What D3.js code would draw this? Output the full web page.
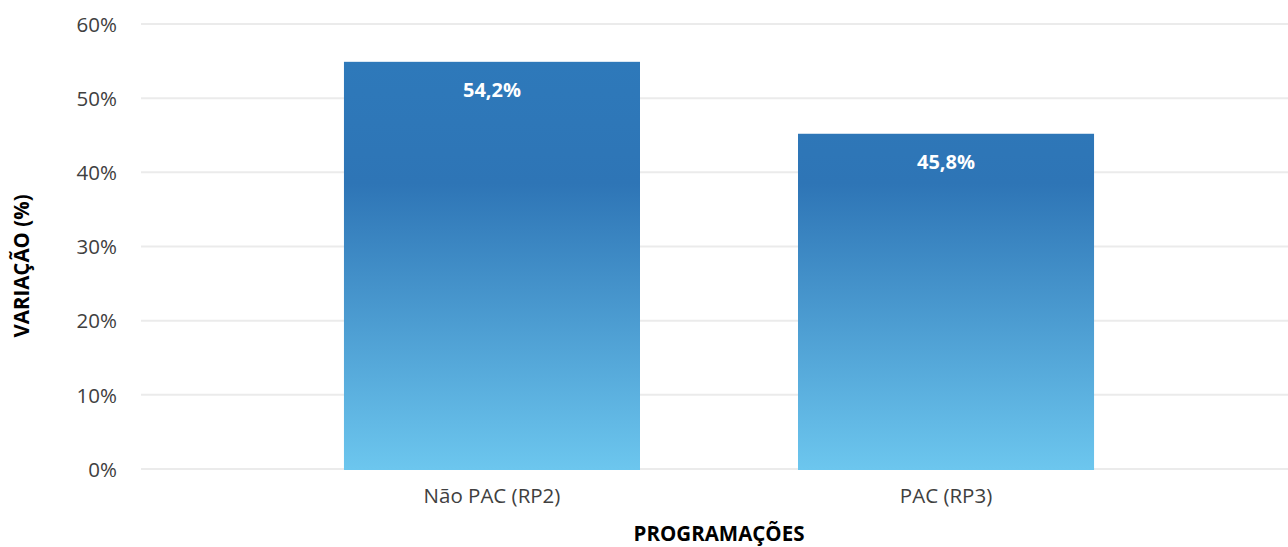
<!DOCTYPE html>
<html lang="pt">
<head>
  <meta charset="UTF-8">
  <title>Variação por programação</title>
  <script src="https://cdnjs.cloudflare.com/ajax/libs/d3/7.8.5/d3.min.js"></script>
  <style>
    body { margin: 0; background: #fff; }
    svg { display: block; font-family: "Open Sans", "Noto Sans", sans-serif; }
    .tick text { fill: #404040; font-size: 20.5px; font-family: "Open Sans", "Noto Sans", sans-serif; }
    .grid line { stroke: #ebebeb; stroke-width: 2; }
  </style>
</head>
<body>
  <div id="chart"></div>
  <script>
    // data
    const categories = ["Não PAC (RP2)", "PAC (RP3)"];
    const barValues = [54.9, 45.2];          // bar heights as drawn
    const barLabels = ["54,2%", "45,8%"];     // printed data labels
    const yTicks = [0, 10, 20, 30, 40, 50, 60];

    const W = 1288, H = 547;
    const margin = {top: 24, right: 0, bottom: 78, left: 141};
    const plotBottom = H - margin.bottom; // 469

    const svg = d3.select("#chart").append("svg")
      .attr("width", W).attr("height", H);

    const x = d3.scaleBand()
      .domain(categories)
      .range([margin.left, 1297])
      .paddingInner(0.348)
      .paddingOuter(0.447);

    const y = d3.scaleLinear()
      .domain([0, 60])
      .range([plotBottom, margin.top]);

    // gradient shared across the plot area
    const grad = svg.append("defs").append("linearGradient")
      .attr("id", "barGrad")
      .attr("gradientUnits", "userSpaceOnUse")
      .attr("x1", 0).attr("x2", 0)
      .attr("y1", y(55)).attr("y2", y(0));
    grad.append("stop").attr("offset", 0).attr("stop-color", "#2e79ba");
    grad.append("stop").attr("offset", 0.3).attr("stop-color", "#2e75b6");
    grad.append("stop").attr("offset", 1).attr("stop-color", "#6cc6ee");

    // gridlines
    svg.append("g").attr("class", "grid")
      .selectAll("line").data(yTicks).enter().append("line")
      .attr("x1", margin.left).attr("x2", W)
      .attr("y1", d => y(d)).attr("y2", d => y(d));

    // y axis labels
    const yAxis = svg.append("g")
      .attr("transform", `translate(${margin.left},0)`)
      .call(d3.axisLeft(y).tickValues(yTicks).tickSize(0).tickPadding(24)
        .tickFormat(d => d + "%"));
    yAxis.attr("font-family", null).attr("font-size", null);
    yAxis.select(".domain").remove();
    yAxis.selectAll("text").attr("dy", "0.35em");

    // bars
    svg.selectAll(".bar").data(categories).enter().append("rect")
      .attr("class", "bar")
      .attr("x", d => x(d))
      .attr("width", x.bandwidth())
      .attr("y", (d, i) => y(barValues[i]))
      .attr("height", (d, i) => plotBottom + 1 - y(barValues[i]))
      .attr("fill", "url(#barGrad)");

    // data labels
    svg.selectAll(".lbl").data(categories).enter().append("text")
      .attr("x", d => x(d) + x.bandwidth() / 2)
      .attr("y", (d, i) => y(barValues[i]) + 35)
      .attr("text-anchor", "middle")
      .attr("fill", "#fff")
      .attr("font-size", 20)
      .attr("font-weight", "bold")
      .text((d, i) => barLabels[i]);

    // x axis labels
    const xAxis = svg.append("g")
      .attr("transform", `translate(0,${plotBottom})`)
      .call(d3.axisBottom(x).tickSize(0).tickPadding(19));
    xAxis.attr("font-family", null).attr("font-size", null);
    xAxis.select(".domain").remove();

    // axis titles
    svg.append("text")
      .attr("x", 719).attr("y", 541)
      .attr("text-anchor", "middle")
      .attr("font-size", 20.5).attr("font-weight", "bold").attr("fill", "#000")
      .text("PROGRAMAÇÕES");

    svg.append("text")
      .attr("transform", "translate(29,266) rotate(-90)")
      .attr("text-anchor", "middle")
      .attr("font-size", 20.5).attr("font-weight", "bold").attr("fill", "#000")
      .text("VARIAÇÃO (%)");
  </script>
</body>
</html>
